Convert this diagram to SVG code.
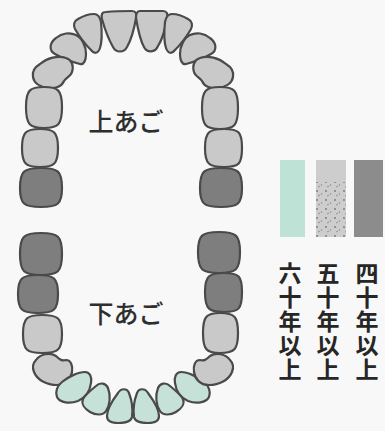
<svg xmlns="http://www.w3.org/2000/svg" width="385" height="431" viewBox="0 0 385 431">
<style>
.t{stroke:#4a4a4a;stroke-width:2.2;stroke-linejoin:round}
.lg{fill:#c9c9c9}
.dk{fill:#7e7e7e}
.gr{fill:#c6e1d7}
.lbl{font-family:"Noto Sans CJK JP","Noto Sans",sans-serif;font-size:25px;font-weight:500;fill:#2e2e2e;text-anchor:middle}
.col{font-family:"Noto Sans CJK JP","Noto Sans",sans-serif;font-size:23px;font-weight:bold;fill:#262626;writing-mode:vertical-rl;letter-spacing:1px}
</style>
<defs>
<pattern id="speck" width="9" height="9" patternUnits="userSpaceOnUse">
<rect width="9" height="9" fill="#cdcdcd"/>
<circle cx="2" cy="2" r="0.9" fill="#777"/>
<circle cx="6.5" cy="5" r="0.7" fill="#888"/>
<path d="M3 7 l2 -1" stroke="#777" stroke-width="0.7"/>
</pattern>
<path id="uLat" d="M78,19 C83,16 89,14 94,14 C98,14 100,17 101,22 C102,32 102,42 100,48 C98,54 94,54 91,50 C85,44 79,36 75,29 C73,25 74,21 78,19 Z"/>
<path id="uCan" d="M56,38 C62,33 70,32 76,35 C82,38 86,46 86,54 C86,60 84,65 80,64 C72,62 62,58 55,54 C49,51 49,43 56,38 Z"/>
<path id="uPre" d="M40,64 C47,58 58,55 66,58 C72,60 74,66 72,72 C71,76 66,78 64,81 C62,86 56,89 48,88 C40,87 34,83 33,77 C32,72 35,67 40,64 Z"/>
<path id="lPre" d="M36,360 C40,354 50,352 56,356 C60,360 62,361 66,360 C71,360 73,366 72,372 C71,379 66,385 57,385 C47,385 37,380 34,372 C32,367 33,363 36,360 Z"/>
<path id="lCan" d="M62,382 C68,377 78,372 85,372 C90,372 92,377 91,383 C90,391 85,398 78,401 C70,404 60,403 57,397 C55,392 57,386 62,382 Z"/>
<path id="lLat" d="M96,386 C100,382 106,383 108,388 C111,396 110,405 106,411 C103,416 95,415 90,412 C85,409 81,404 83,399 C86,394 91,390 96,386 Z"/>
<path id="lCen" d="M118,393 C121,388 127,388 129,393 C132,401 133,410 132,417 C131,422 125,423 118,423 C111,423 107,421 107,416 C107,409 112,401 118,393 Z"/>
</defs>
<rect width="385" height="431" fill="#f8f8f8"/>

<g id="upper-jaw">
<path class="t lg" d="M106,12 C116,11 126,11 132,11 C136,11 137,14 136,18 C134,30 131,40 127,47 C124,53 116,53 113,47 C109,40 105,30 102,19 C101,14 102,12 106,12 Z"/>
<path class="t lg" d="M140,11 C148,11 156,11 163,11 C167,11 168,14 167,18 C165,30 162,40 158,46 C155,53 147,53 144,47 C140,40 138,30 136,18 C136,14 137,11 140,11 Z"/>
<use href="#uLat" class="t lg"/>
<use href="#uLat" class="t lg" transform="translate(266,0) scale(-1,1)"/>
<use href="#uCan" class="t lg"/>
<use href="#uCan" class="t lg" transform="translate(266,0) scale(-1,1)"/>
<use href="#uPre" class="t lg"/>
<use href="#uPre" class="t lg" transform="translate(266,0) scale(-1,1)"/>
<path class="t lg" d="M44,87 C58,87 62,90 62,107 C62,125 58,128 44,128 C30,128 26,125 26,107 C26,90 30,87 44,87 Z"/>
<path class="t lg" d="M40,129 C54,129 58,132 58,148 C58,164 54,167 40,167 C26,167 22,164 22,148 C22,132 26,129 40,129 Z"/>
<path class="t dk" d="M41,168 C58,168 62,171 62,188 C62,204 58,207 41,207 C24,207 20,204 20,188 C20,171 24,168 41,168 Z"/>
<path class="t lg" d="M220,87 C234,87 238,90 238,108 C238,126 234,129 220,129 C206,129 202,126 202,108 C202,90 206,87 220,87 Z"/>
<path class="t lg" d="M224,129 C239,129 242,132 242,148 C242,164 239,167 224,167 C209,167 205,164 205,148 C205,132 209,129 224,129 Z"/>
<path class="t dk" d="M221,168 C238,168 242,171 242,188 C242,204 238,207 221,207 C204,207 200,204 200,188 C200,171 204,168 221,168 Z"/>
<text class="lbl" x="126" y="131">上あご</text>
</g>

<g id="lower-jaw">
<path class="t dk" d="M41,233 C58,233 62,236 62,254 C62,272 58,275 41,275 C24,275 20,272 20,254 C20,236 24,233 41,233 Z"/>
<path class="t dk" d="M38,275 C54,275 58,278 58,294 C58,310 54,313 38,313 C22,313 18,310 18,294 C18,278 22,275 38,275 Z"/>
<path class="t lg" d="M42,315 C58,315 62,318 62,334 C62,350 58,353 42,353 C27,353 23,350 23,334 C23,318 27,315 42,315 Z"/>
<use href="#lPre" class="t lg"/>
<use href="#lCan" class="t gr"/>
<use href="#lLat" class="t gr"/>
<use href="#lCen" class="t gr"/>
<use href="#lCen" class="t gr" transform="translate(266,0) scale(-1,1)"/>
<use href="#lLat" class="t gr" transform="translate(266,0) scale(-1,1)"/>
<use href="#lCan" class="t gr" transform="translate(266,0) scale(-1,1)"/>
<use href="#lPre" class="t lg" transform="translate(266,0) scale(-1,1)"/>
<path class="t lg" d="M220,313 C235,313 238,317 238,333 C238,349 235,353 220,353 C206,353 203,349 203,333 C203,317 206,313 220,313 Z"/>
<path class="t dk" d="M224,273 C239,273 242,276 242,292 C242,309 239,312 224,312 C209,312 205,309 205,292 C205,276 209,273 224,273 Z"/>
<path class="t dk" d="M219,232 C236,232 240,235 240,252 C240,270 236,273 219,273 C202,273 198,270 198,252 C198,235 202,232 219,232 Z"/>
<text class="lbl" x="126" y="323">下あご</text>
</g>

<g id="legend">
<rect x="280" y="160" width="25" height="77" fill="#bfe2d6"/>
<rect x="316" y="160" width="30" height="77" fill="#cdcdcd"/>
<rect x="316" y="182" width="30" height="55" fill="url(#speck)"/>
<rect x="354" y="160" width="29" height="77" fill="#8c8c8c"/>
<text class="col" x="290" y="262">六十年以上</text>
<text class="col" x="328" y="262">五十年以上</text>
<text class="col" x="367" y="262">四十年以上</text>
</g>
</svg>
